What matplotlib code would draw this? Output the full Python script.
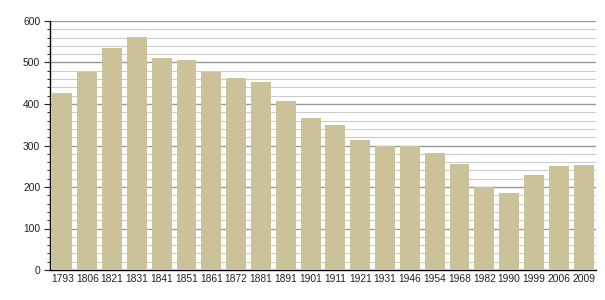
import matplotlib
matplotlib.use("Agg")
import matplotlib.pyplot as plt
from matplotlib.ticker import MultipleLocator

plt.rcParams["font.family"] = ["Liberation Sans", "DejaVu Sans"]

years = ["1793", "1806", "1821", "1831", "1841", "1851", "1861", "1872", "1881", "1891", "1901",
         "1911", "1921", "1931", "1946", "1954", "1968", "1982", "1990", "1999", "2006", "2009"]
population = [427, 476, 534, 561, 511, 506, 478, 463, 454, 408, 367,
              349, 313, 300, 300, 283, 255, 199, 186, 230, 251, 254]

fig = plt.figure(figsize=(6.05, 3.0), dpi=100)
ax = fig.add_axes([50/605, 30/300, 546/605, 249/300])

x = list(range(len(years)))
ax.bar(x, population, width=0.8, color="#CCC29A", zorder=3)
ax.set_xlim(-0.5, len(years) - 0.5)
ax.set_ylim(0, 600)
ax.set_xticks(x)
ax.set_xticklabels(years)
ax.yaxis.set_major_locator(MultipleLocator(100))
ax.yaxis.set_minor_locator(MultipleLocator(20))
ax.grid(axis="y", which="major", color="#999999", linewidth=1.0, zorder=0)
ax.grid(axis="y", which="minor", color="#cccccc", linewidth=0.8, zorder=0)
for s in ["top", "right"]:
    ax.spines[s].set_visible(False)
ax.spines["left"].set_linewidth(1.0)
ax.spines["bottom"].set_linewidth(1.0)
ax.tick_params(axis="x", length=0, labelsize=7.4, pad=3, colors="#222222")
ax.tick_params(axis="y", which="major", length=4, labelsize=7.4, pad=3, colors="#222222")
ax.tick_params(axis="y", which="minor", length=2)
fig.savefig("out.png", dpi=100, facecolor="white")
